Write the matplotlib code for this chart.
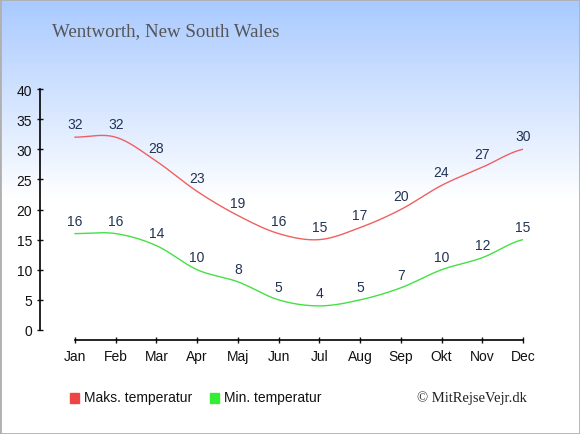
import matplotlib
matplotlib.use('Agg')
import matplotlib.pyplot as plt
import matplotlib.patches as mpatches
import numpy as np

months = ['Jan', 'Feb', 'Mar', 'Apr', 'Maj', 'Jun', 'Jul', 'Aug', 'Sep', 'Okt', 'Nov', 'Dec']
max_temp = [32, 32, 28, 23, 19, 16, 15, 17, 20, 24, 27, 30]
min_temp = [16, 16, 14, 10, 8, 5, 4, 5, 7, 10, 12, 15]

W, H = 580, 435


def smooth(y, n=20):
    # Catmull-Rom curve through the points, only for drawing
    y = np.asarray(y, dtype=float)
    p = np.concatenate([[y[0]], y, [y[-1]]])
    xs, ys = [], []
    for i in range(len(y) - 1):
        t = np.linspace(0, 1, n, endpoint=False)
        p0, p1, p2, p3 = p[i], p[i + 1], p[i + 2], p[i + 3]
        v = 0.5 * ((2 * p1) + (-p0 + p2) * t + (2 * p0 - 5 * p1 + 4 * p2 - p3) * t ** 2
                   + (-p0 + 3 * p1 - 3 * p2 + p3) * t ** 3)
        xs.append(i + t)
        ys.append(v)
    xs.append([len(y) - 1])
    ys.append([y[-1]])
    return np.concatenate(xs), np.concatenate(ys)


fig = plt.figure(figsize=(W / 100, H / 100), dpi=100)

# background gradient, blue at the top fading to white
bg = fig.add_axes([0, 0, 1, 1])
bg.set_axis_off()
frac = np.clip(np.arange(H) / 200.0, 0, 1)
top = np.array([0.66, 0.79, 1.0])
grad = top[None, :] * (1 - frac[:, None]) + np.ones(3)[None, :] * frac[:, None]
grad = np.repeat(grad[:, None, :], W, axis=1)
bg.imshow(grad, aspect='auto', extent=[0, 1, 0, 1], origin='upper')
bg.add_patch(mpatches.Rectangle((0, 0), 1, 1, transform=bg.transAxes, fill=False,
                                edgecolor='#b0b0b0', linewidth=2))
bg.set_xlim(0, 1)
bg.set_ylim(0, 1)

# plot area: x 40..523 px, y 90..341 px
left, right, top_px, bot_px = 40, 523, 90, 341
ax = fig.add_axes([left / W, 1 - bot_px / H, (right - left) / W, (bot_px - top_px) / H])
ax.patch.set_alpha(0)
ppu = (331 - 90) / 40.0
ax.set_ylim(-(bot_px - 331) / ppu, 40)
ppm = (523 - 75) / 11.0
ax.set_xlim(-(75 - left) / ppm, 11)

xs, ys = smooth(max_temp)
ax.plot(xs, ys, color='#f06060', linewidth=1.0)
xs, ys = smooth(min_temp)
ax.plot(xs, ys, color='#44e044', linewidth=1.0)

for i, v in enumerate(max_temp):
    ax.annotate(str(v), (i, v), xytext=(0, 13), textcoords='offset pixels',
                ha='center', va='center', fontsize=10, color='#223355',
                family='Liberation Sans')
for i, v in enumerate(min_temp):
    ax.annotate(str(v), (i, v), xytext=(0, 13), textcoords='offset pixels',
                ha='center', va='center', fontsize=10, color='#223355',
                family='Liberation Sans')

for s in ['top', 'right']:
    ax.spines[s].set_visible(False)
ax.spines['left'].set_bounds(0, 40)
ax.spines['bottom'].set_bounds(0, 11)
ax.spines['left'].set_linewidth(1.2)
ax.spines['bottom'].set_linewidth(1.2)
ax.set_yticks(range(0, 41, 5))
ax.set_xticks(range(12))
ax.set_xticklabels(months)
ax.tick_params(axis='both', direction='inout', length=5, width=1, labelsize=10,
               colors='#111111')
ax.tick_params(axis='y', pad=3)
ax.tick_params(axis='x', pad=4)
for lab in ax.get_xticklabels() + ax.get_yticklabels():
    lab.set_family('Liberation Sans')

fig.text(52 / W, 1 - 32 / H, 'Wentworth, New South Wales', fontsize=13.6,
         family='Liberation Serif', color='#555555', va='center', ha='left')

# legend
fig.patches.append(mpatches.Rectangle((70 / W, 1 - 404 / H), 9 / W, 10 / H,
                                      transform=fig.transFigure, color='#ee4444'))
fig.text(84 / W, 1 - 398 / H, 'Maks. temperatur', fontsize=10, family='Liberation Sans',
         color='#111111', va='center', ha='left')
fig.patches.append(mpatches.Rectangle((210 / W, 1 - 404 / H), 9 / W, 10 / H,
                                      transform=fig.transFigure, color='#33ee33'))
fig.text(224 / W, 1 - 398 / H, 'Min. temperatur', fontsize=10, family='Liberation Sans',
         color='#111111', va='center', ha='left')
fig.text(527 / W, 1 - 398 / H, '© MitRejseVejr.dk', fontsize=10.5, family='Liberation Serif',
         color='#222222', va='center', ha='right')

fig.savefig('out.png', dpi=100)
